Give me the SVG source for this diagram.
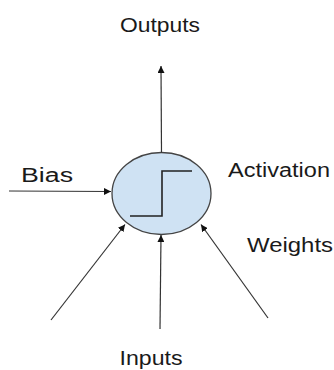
<svg xmlns="http://www.w3.org/2000/svg" width="334" height="370" viewBox="0 0 334 370">
<style>
.lbl{font-family:"Liberation Sans",Arial,sans-serif;font-size:20px;fill:#1a1a1a}
.conn{stroke:#333;stroke-width:1.2;fill:none}
</style>
<defs>
<marker id="ah" viewBox="0 0 10 10" refX="10" refY="5" markerWidth="7" markerHeight="7" markerUnits="userSpaceOnUse" orient="auto">
<path d="M0,0 L10,5 L0,10 z" fill="#111"/>
</marker>
</defs>
<rect width="334" height="370" fill="#fff"/>
<g id="neuron">
<ellipse cx="161.5" cy="193.5" rx="49.5" ry="41" fill="#cfe2f3" stroke="#444" stroke-width="1.3"/>
<polyline points="130,216 162,216 162,171 192,171" fill="none" stroke="#222" stroke-width="1.6"/>
</g>
<g id="connectors">
<line class="conn" x1="161.5" y1="152.5" x2="161" y2="66" marker-end="url(#ah)"/>
<line class="conn" x1="9" y1="191" x2="111" y2="191.5" marker-end="url(#ah)"/>
<line class="conn" x1="51" y1="320" x2="125" y2="224.5" marker-end="url(#ah)"/>
<line class="conn" x1="160" y1="329" x2="161" y2="235" marker-end="url(#ah)"/>
<line class="conn" x1="268" y1="318" x2="201" y2="224.5" marker-end="url(#ah)"/>
</g>
<g id="labels">
<text class="lbl" x="120" y="32" textLength="80" lengthAdjust="spacingAndGlyphs">Outputs</text>
<text class="lbl" x="21" y="181.5" textLength="52" lengthAdjust="spacingAndGlyphs">Bias</text>
<text class="lbl" x="228" y="177" textLength="102" lengthAdjust="spacingAndGlyphs">Activation</text>
<text class="lbl" x="247" y="251.5" textLength="86" lengthAdjust="spacingAndGlyphs">Weights</text>
<text class="lbl" x="119.5" y="365" textLength="63" lengthAdjust="spacingAndGlyphs">Inputs</text>
</g>
</svg>
